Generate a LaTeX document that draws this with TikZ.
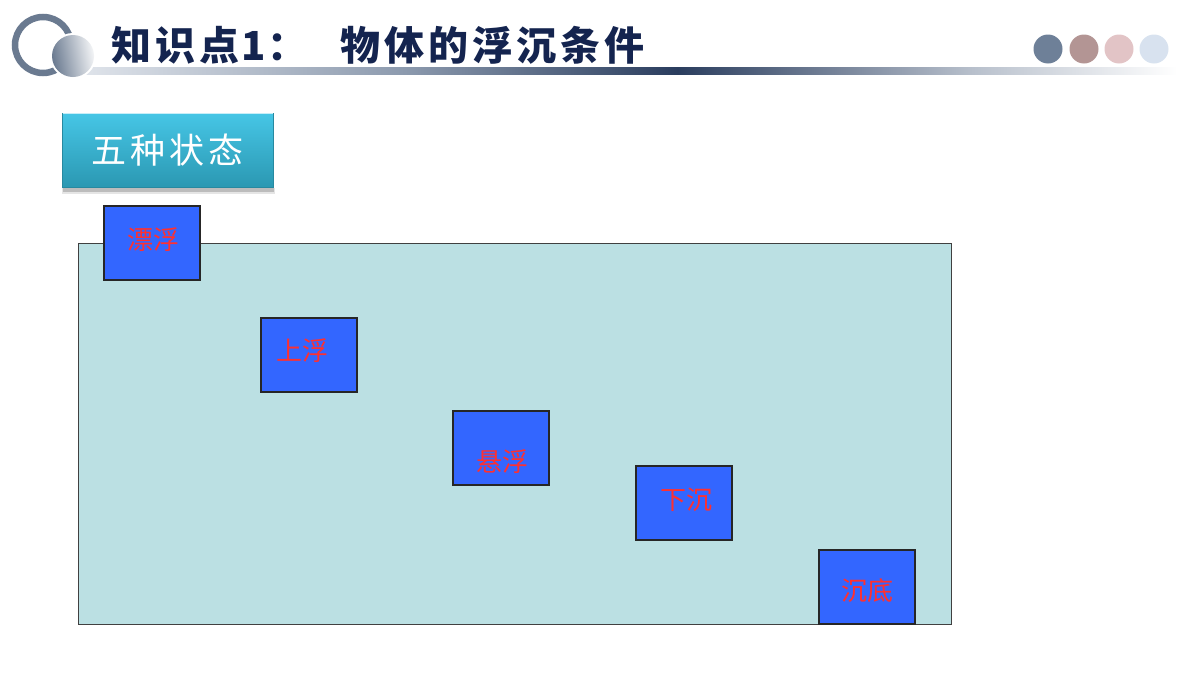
\documentclass[tikz,border=0pt]{standalone}
\usepackage{fontspec}
\newfontfamily\cjk{Noto Sans CJK SC}
\usetikzlibrary{positioning}
\definecolor{navy}{HTML}{14244F}
\definecolor{ringc}{HTML}{6A7A90}
\definecolor{water}{HTML}{BBE0E3}
\definecolor{boxblue}{HTML}{3366FF}
\definecolor{lblred}{HTML}{FF3030}
\definecolor{dotA}{HTML}{6E8098}
\definecolor{dotB}{HTML}{B39594}
\definecolor{dotC}{HTML}{E2C4C6}
\definecolor{dotD}{HTML}{D8E2EF}
\definecolor{badgetop}{HTML}{46C6E6}
\definecolor{badgebot}{HTML}{2B98B2}
\definecolor{lineL}{HTML}{E4E8EE}
\definecolor{lineM}{HTML}{8C9AAE}
\definecolor{lineD}{HTML}{2A3D5E}
\definecolor{lineR}{HTML}{B8C0CC}
\pgfdeclarehorizontalshading{titleline}{100bp}{color(0bp)=(lineL); color(25bp)=(lineL); color(40bp)=(lineM); color(52bp)=(lineD); color(65bp)=(lineR); color(74bp)=(white); color(100bp)=(white)}
\tikzset{
  statebox/.style={draw=black!85, line width=1.3pt, fill=boxblue, minimum width=96pt, minimum height=74pt, inner sep=0pt},
  statelbl/.style={text=lblred, font=\cjk\fontsize{26}{26}\selectfont, inner sep=0pt},
  dot/.style={circle, minimum size=29pt, inner sep=0pt},
}
\begin{document}
\begin{tikzpicture}[x=1pt,y=-1pt]
\useasboundingbox (0,0) rectangle (1200,675);
% title line
\shade[shading=titleline] (64,67) rectangle (1200,74);
% ring and ball
\draw[ringc, line width=6.5pt] (43,45) circle (28);
\fill[white] (73,56) circle (23);
\shade[left color=ringc, right color=white!92!ringc, shading angle=100] (73,56) circle (21);
% title
\node[anchor=west, text=navy, font=\cjk\bfseries\fontsize{40}{40}\selectfont, inner sep=0pt] (t1) at (111,45) {知\hspace{4pt}识\hspace{4pt}点\hspace{2pt}1\hspace{2pt}：};
\node[anchor=west, text=navy, font=\cjk\bfseries\fontsize{40}{40}\selectfont, inner sep=0pt] (t2) at (340,45) {物\hspace{4pt}体\hspace{4pt}的\hspace{4pt}浮\hspace{4pt}沉\hspace{4pt}条\hspace{4pt}件};
% dots
\node[dot, fill=dotA] (d1) at (1048,49) {};
\node[dot, fill=dotB] (d2) at (1084,49) {};
\node[dot, fill=dotC] (d3) at (1119,49) {};
\node[dot, fill=dotD] (d4) at (1154,49) {};
% badge
\fill[black, opacity=0.18] (63,188) rectangle (274,192);
\fill[black, opacity=0.10] (62,188) rectangle (275,194);
\node[minimum width=211pt, minimum height=74pt, top color=badgetop, bottom color=badgebot, draw=badgebot!90!black, line width=0.4pt, text=white, font=\cjk\fontsize{35}{35}\selectfont, inner sep=0pt] (badge) at (167.5,150) {五\hspace{4pt}种\hspace{4pt}状\hspace{4pt}态};
\draw[white!70!badgetop, line width=1pt] (62.5,113.5) -- (272.5,113.5);
% water
\node[draw=black!75, line width=1pt, fill=water, minimum width=873pt, minimum height=381pt, inner sep=0pt] (tank) at (514.5,433.5) {};
% state boxes
\node[statebox] (b1) at (152,243) {};
\node[statebox] (b2) at (309,355) {};
\node[statebox] (b3) at (501,448) {};
\node[statebox] (b4) at (684,503) {};
\node[statebox] (b5) at (867,587) {};
\node[statelbl] (l1) at (153,240) {漂浮};
\node[statelbl] (l2) at (302,351) {上浮};
\node[statelbl] (l3) at (502,462) {悬浮};
\node[statelbl] (l4) at (686,500) {下沉};
\node[statelbl] (l5) at (867,591) {沉底};
\end{tikzpicture}
\end{document}
